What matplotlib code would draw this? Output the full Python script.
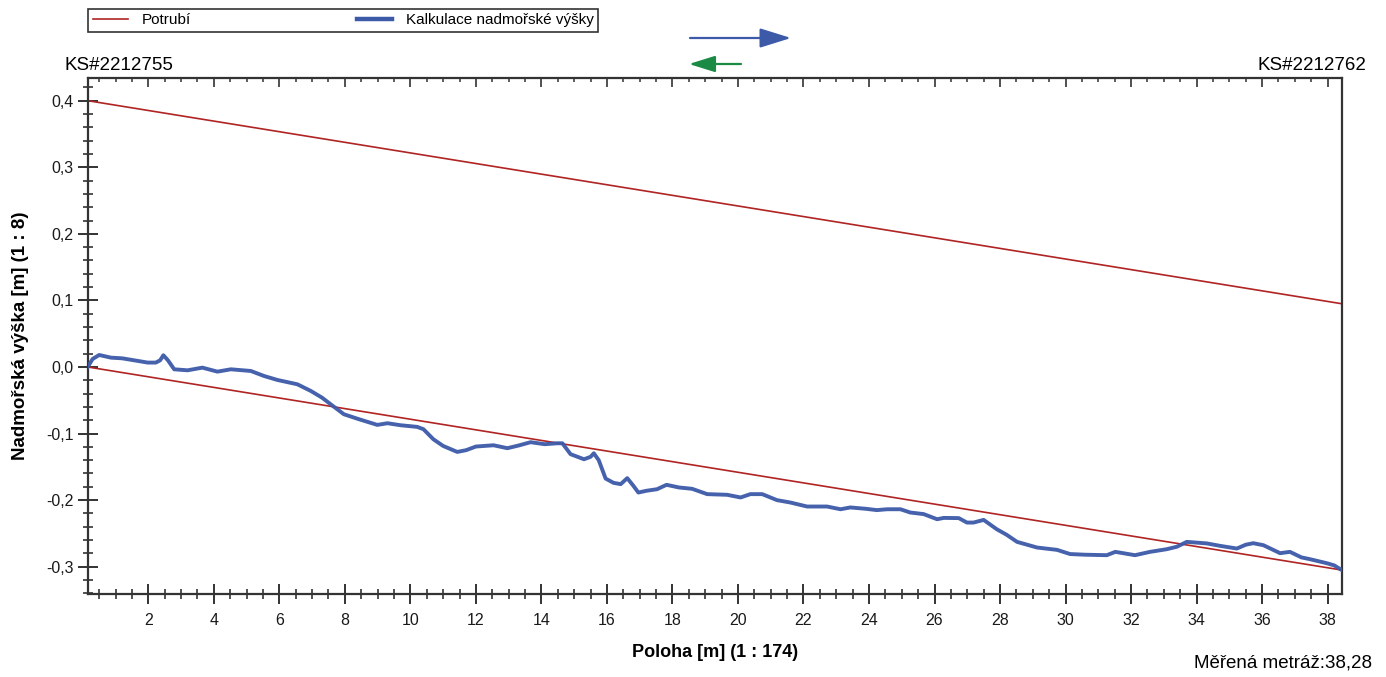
import matplotlib
matplotlib.use("Agg")
import matplotlib.pyplot as plt
from matplotlib.ticker import MultipleLocator, FuncFormatter
from matplotlib.lines import Line2D
from matplotlib.patches import FancyArrowPatch

plt.rcParams['font.family'] = ['Liberation Sans', 'DejaVu Sans']

# ---- data ----
pipe_x = [0.15, 38.43]
pipe_top = [0.40, 0.095]
pipe_bottom = [0.0, -0.305]

calc_x = [0.15, 0.30, 0.50, 0.86, 1.20, 1.57, 1.98, 2.23, 2.36, 2.46, 2.60, 2.79, 3.20, 3.65,
          4.11, 4.52, 5.13, 5.53, 5.94, 6.55, 6.96, 7.30, 7.62, 7.97, 8.40, 8.99, 9.30, 9.70,
          10.21, 10.40, 10.70, 11.00, 11.43, 11.70, 12.00, 12.54, 12.96, 13.30, 13.67, 14.10,
          14.48, 14.64, 14.89, 15.30, 15.50, 15.60, 15.75, 15.96, 16.20, 16.42, 16.62, 16.80,
          16.96, 17.20, 17.53, 17.82, 18.20, 18.60, 19.06, 19.67, 20.08, 20.38, 20.74, 21.19,
          21.60, 22.11, 22.72, 23.13, 23.43, 23.90, 24.24, 24.55, 24.96, 25.26, 25.67, 26.08,
          26.28, 26.74, 26.99, 27.19, 27.50, 27.90, 28.20, 28.52, 29.13, 29.74, 30.14, 30.60,
          31.26, 31.52, 32.12, 32.58, 33.09, 33.40, 33.70, 34.31, 34.72, 35.23, 35.50, 35.73,
          36.04, 36.55, 36.85, 37.20, 37.46, 37.97, 38.20, 38.43]
calc_y = [0.0, 0.012, 0.018, 0.014, 0.013, 0.010, 0.0066, 0.0066, 0.010, 0.0176, 0.010, -0.0035,
          -0.005, -0.001, -0.007, -0.0035, -0.006, -0.0135, -0.0195, -0.026, -0.036, -0.046,
          -0.058, -0.071, -0.078, -0.087, -0.0845, -0.0875, -0.090, -0.0935, -0.1085, -0.1186,
          -0.1276, -0.125, -0.1195, -0.1176, -0.122, -0.118, -0.113, -0.116, -0.1146, -0.1146,
          -0.131, -0.1386, -0.135, -0.1296, -0.140, -0.1676, -0.174, -0.176, -0.167, -0.178,
          -0.1886, -0.186, -0.1836, -0.177, -0.181, -0.183, -0.191, -0.192, -0.196, -0.191,
          -0.191, -0.200, -0.2036, -0.2096, -0.2096, -0.2137, -0.211, -0.213, -0.215, -0.2137,
          -0.2137, -0.2186, -0.221, -0.2287, -0.2267, -0.227, -0.2337, -0.2337, -0.2297,
          -0.2437, -0.252, -0.2627, -0.2712, -0.2747, -0.281, -0.282, -0.2827, -0.2777, -0.2827,
          -0.2777, -0.2737, -0.270, -0.2627, -0.265, -0.2687, -0.2727, -0.267, -0.2647, -0.2677,
          -0.2797, -0.2777, -0.286, -0.2887, -0.2947, -0.298, -0.305]

x_label = "Poloha [m] (1 : 174)"
y_label = "Nadmořská výška [m] (1 : 8)"
legend_labels = ["Potrubí", "Kalkulace nadmořské výšky"]
start_node = "KS#2212755"
end_node = "KS#2212762"
measured = "Měřená metráž:38,28"

# ---- figure ----
W, H = 1386, 677
fig = plt.figure(figsize=(W / 100, H / 100), dpi=100)
L, R, T, B = 87.7, 1341.7, 77.7, 594.0
ax = fig.add_axes([L / W, 1 - B / H, (R - L) / W, (B - T) / H])

red = '#b02424'
blue = '#3d5aa9'
spine_c = '#333333'

ax.plot(pipe_x, pipe_top, color=red, lw=1.2, solid_capstyle='butt')
ax.plot(pipe_x, pipe_bottom, color=red, lw=1.2, solid_capstyle='butt')
ax.plot(calc_x, calc_y, color=blue, lw=2.8, alpha=0.95, solid_joinstyle='round', zorder=3)

xlim = (0.15, 38.43)
ax.set_xlim(*xlim)
ax.set_ylim(-0.341, 0.4345)

for s in ax.spines.values():
    s.set_color(spine_c)
    s.set_linewidth(1.6)

ax.xaxis.set_major_locator(MultipleLocator(2))
ax.xaxis.set_minor_locator(MultipleLocator(0.5))
ax.yaxis.set_major_locator(MultipleLocator(0.1))
ax.yaxis.set_minor_locator(MultipleLocator(0.02))

def yfmt(v, pos):
    s = f"{v:.1f}"
    if s == "-0.0":
        s = "0.0"
    return s.replace('.', ',')

ax.yaxis.set_major_formatter(FuncFormatter(yfmt))
ax.xaxis.set_major_formatter(FuncFormatter(lambda v, p: f"{v:.0f}"))

ax.tick_params(axis='both', which='major', direction='inout', length=14, width=1.4,
               color=spine_c, labelsize=11.5, labelcolor='#1a1a1a')
ax.tick_params(axis='both', which='minor', direction='inout', length=6.5, width=1.2,
               color=spine_c)
ax.tick_params(axis='x', which='both', top=False)
ax.tick_params(axis='x', which='major', pad=7)
ax.tick_params(axis='y', which='major', pad=3)

# top axis: inward ticks only (twiny shares the y axis, so leave y alone)
top = ax.twiny()
top.set_xlim(*xlim)
top.xaxis.set_major_locator(MultipleLocator(2))
top.xaxis.set_minor_locator(MultipleLocator(0.5))
top.tick_params(axis='x', which='major', direction='in', length=6.5, width=1.2,
                color=spine_c, top=True, bottom=False, labeltop=False, labelbottom=False)
top.tick_params(axis='x', which='minor', direction='in', length=3, width=1.1,
                color=spine_c, top=True, bottom=False)
for s in top.spines.values():
    s.set_visible(False)

ax.set_xlabel(x_label, fontsize=13, fontweight='bold', labelpad=11)
ax.set_ylabel(y_label, fontsize=13.5, fontweight='bold')
ax.yaxis.set_label_coords((29 - L) / (R - L), 0.5)

fig.text(64 / W, 1 - 65 / H, start_node, fontsize=13.5, ha='left', va='center')
fig.text(1366 / W, 1 - 65 / H, end_node, fontsize=13.5, ha='right', va='center')
fig.text(1372 / W, 1 - 663 / H, measured, fontsize=13.5, ha='right', va='center')

# direction arrows
fig.add_artist(FancyArrowPatch(
    (690 / W, 1 - 38 / H), (791 / W, 1 - 38 / H), transform=fig.transFigure,
    arrowstyle='-|>,head_length=1.6,head_width=0.5', mutation_scale=12,
    color=blue, lw=1.6, shrinkA=0, shrinkB=0))
fig.add_artist(FancyArrowPatch(
    (741 / W, 1 - 64 / H), (689 / W, 1 - 64 / H), transform=fig.transFigure,
    arrowstyle='-|>,head_length=1.6,head_width=0.5', mutation_scale=10,
    color='#1a8a45', lw=1.6, shrinkA=0, shrinkB=0))

leg = fig.legend([Line2D([], [], color=red, lw=1.2), Line2D([], [], color=blue, lw=3.2)],
                 legend_labels, loc='lower left',
                 bbox_to_anchor=(88 / W, 1 - 32 / H, (598 - 88) / W, 24 / H),
                 mode='expand', ncol=2, fontsize=11, frameon=True, fancybox=False,
                 edgecolor='black', borderaxespad=0, borderpad=0.3, handlelength=2.3,
                 handletextpad=0.9)
leg.get_frame().set_linewidth(1.2)

fig.savefig("out.png", dpi=100)
